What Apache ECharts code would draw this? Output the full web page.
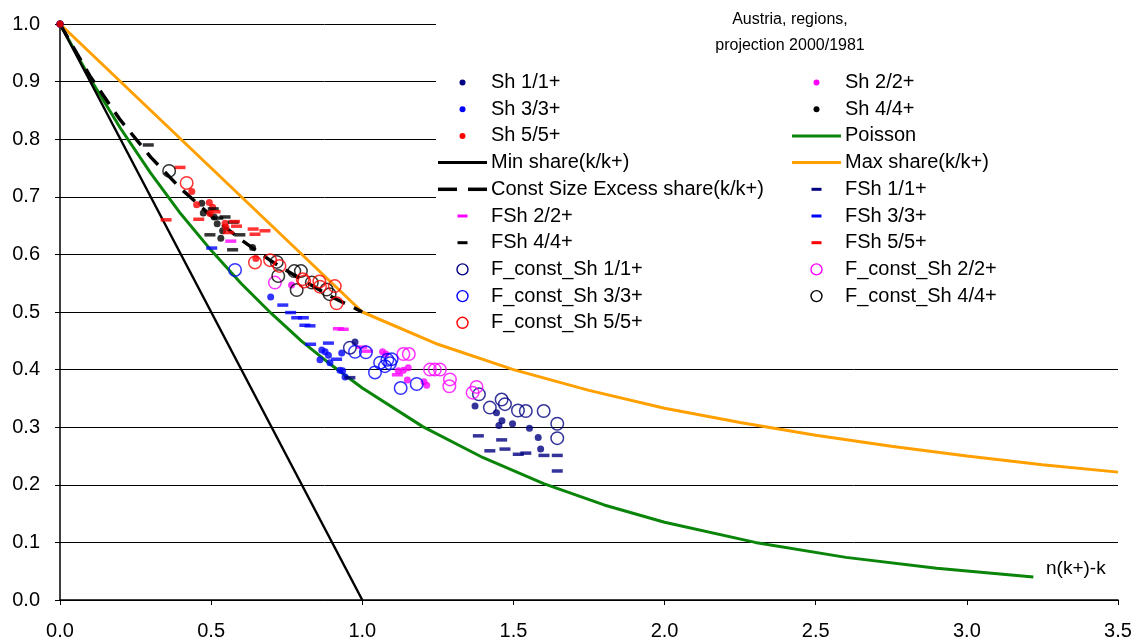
<!DOCTYPE html>
<html>
<head>
<meta charset="utf-8">
<script src="https://cdn.jsdelivr.net/npm/echarts@6/dist/echarts.min.js"></script>
<style>
html,body{margin:0;padding:0;background:#fff;}
#chart{width:1132px;height:639px;}
</style>
</head>
<body>
<div id="chart"></div>
<script>
// ---------- text ----------
const titleLines = ['Austria, regions,', 'projection 2000/1981'];
const xAxisCaption = 'n(k+)-k';
const xTickValues = [0, 0.5, 1.0, 1.5, 2.0, 2.5, 3.0, 3.5];
const yTickValues = [0, 0.1, 0.2, 0.3, 0.4, 0.5, 0.6, 0.7, 0.8, 0.9, 1.0];

// ---------- reference curves ----------
const minShare = [[0, 1], [1, 0]];
const maxShare = [[0, 1], [1, 0.5], [1.25, 0.444], [1.5, 0.4], [1.75, 0.364], [2, 0.333], [2.25, 0.308], [2.5, 0.286], [2.75, 0.267], [3, 0.25], [3.25, 0.235], [3.5, 0.222]];
const poisson = [[0, 1], [0.1, 0.905], [0.2, 0.819], [0.3, 0.741], [0.4, 0.67], [0.5, 0.607], [0.6, 0.549], [0.7, 0.497], [0.8, 0.449], [0.9, 0.407], [1.0, 0.368], [1.2, 0.301], [1.4, 0.247], [1.6, 0.202], [1.8, 0.165], [2.0, 0.135], [2.3, 0.1], [2.6, 0.074], [2.9, 0.055], [3.22, 0.04]];
const constSizeExcess = [[0, 1], [0.1, 0.909], [0.2, 0.833], [0.3, 0.769], [0.4, 0.714], [0.5, 0.667], [0.6, 0.625], [0.7, 0.588], [0.8, 0.556], [0.9, 0.526], [1.0, 0.5]];

// ---------- observed shares (dots) ----------
const sh1 = [[0, 1], [0.976, 0.448], [1.373, 0.337], [1.444, 0.325], [1.462, 0.311], [1.452, 0.303], [1.497, 0.306], [1.553, 0.298], [1.582, 0.282], [1.59, 0.262]];
const sh2 = [[0, 1], [0.766, 0.547], [1.067, 0.431], [1.078, 0.427], [1.119, 0.398], [1.136, 0.399], [1.152, 0.403], [1.149, 0.382], [1.204, 0.379], [1.213, 0.373]];
const sh3 = [[0, 1], [0.697, 0.526], [0.866, 0.434], [0.877, 0.431], [0.888, 0.425], [0.86, 0.417], [0.893, 0.412], [0.932, 0.429], [0.926, 0.399], [0.935, 0.398], [0.943, 0.387]];
const sh4 = [[0, 1], [0.469, 0.689], [0.474, 0.672], [0.51, 0.665], [0.52, 0.653], [0.538, 0.641], [0.532, 0.628], [0.637, 0.612]];
const sh5 = [[0, 1], [0.436, 0.709], [0.452, 0.686], [0.494, 0.69], [0.496, 0.671], [0.505, 0.682], [0.546, 0.654], [0.549, 0.647], [0.648, 0.593]];

// ---------- forecast shares (dashes) ----------
const fsh1 = [[0.959, 0.386], [1.384, 0.285], [1.461, 0.278], [1.422, 0.259], [1.472, 0.262], [1.516, 0.253], [1.541, 0.255], [1.601, 0.251], [1.645, 0.251], [1.645, 0.224]];
const fsh2 = [[0.565, 0.623], [0.921, 0.471], [0.937, 0.47], [0.998, 0.439], [1.016, 0.432], [1.116, 0.391]];
const fsh3 = [[0.502, 0.611], [0.737, 0.512], [0.763, 0.499], [0.783, 0.49], [0.805, 0.49], [0.81, 0.477], [0.827, 0.476], [0.829, 0.444], [0.888, 0.446], [0.915, 0.418]];
const fsh4 = [[0.292, 0.79], [0.507, 0.679], [0.522, 0.663], [0.546, 0.665], [0.573, 0.656], [0.496, 0.634], [0.595, 0.634], [0.571, 0.608]];
const fsh5 = [[0.397, 0.751], [0.351, 0.66], [0.459, 0.661], [0.513, 0.674], [0.577, 0.657], [0.584, 0.649], [0.639, 0.644], [0.678, 0.641], [0.645, 0.635], [0.557, 0.638]];

// ---------- forecast with constant share (circles) ----------
const fc1 = [[0.959, 0.438], [1.386, 0.357], [1.422, 0.334], [1.461, 0.348], [1.472, 0.34], [1.515, 0.329], [1.541, 0.328], [1.6, 0.328], [1.645, 0.306], [1.645, 0.281]];
const fc2 = [[0.711, 0.551], [1.136, 0.427], [1.154, 0.427], [1.224, 0.4], [1.24, 0.4], [1.257, 0.4], [1.29, 0.383], [1.288, 0.371], [1.378, 0.37], [1.365, 0.36]];
const fc3 = [[0.579, 0.573], [0.976, 0.431], [1.012, 0.43], [1.059, 0.412], [1.075, 0.406], [1.092, 0.411], [1.097, 0.418], [1.083, 0.417], [1.042, 0.395], [1.127, 0.368], [1.18, 0.375]];
const fc4 = [[0.361, 0.745], [0.717, 0.587], [0.722, 0.5625], [0.775, 0.571], [0.797, 0.571], [0.783, 0.538], [0.833, 0.551], [0.882, 0.539], [0.892, 0.531]];
const fc5 = [[0.419, 0.724], [0.645, 0.586], [0.695, 0.59], [0.726, 0.58], [0.803, 0.557], [0.808, 0.553], [0.858, 0.553], [0.86, 0.544], [0.909, 0.545], [0.915, 0.515]];

// ---------- styling ----------
const NAVY = '#000080', MAG = '#FF00FF', BLUE = '#0000FF', BLACK = '#000000', RED = '#FF0000';
const GREEN = '#0A850A', ORANGE = '#FFA000';
const FONT = 'Liberation Sans, Arial, sans-serif';
const DASH_PATH = 'path://M0,0h10v3h-10z';

function dots(name, data, color) {
  return { name, type: 'scatter', data, symbol: 'circle', symbolSize: 7,
    itemStyle: { color }, silent: true, z: 3 };
}
function dashes(name, data, color) {
  return { name, type: 'scatter', data, symbol: DASH_PATH, symbolSize: [11, 3.5],
    itemStyle: { color }, silent: true, z: 3 };
}
function rings(name, data, color) {
  return { name, type: 'scatter', data, symbol: 'circle', symbolSize: 12.5,
    itemStyle: { color: 'rgba(0,0,0,0)', borderColor: color, borderWidth: 1.5 }, silent: true, z: 3 };
}
function curve(name, data, color, width, type) {
  return { name, type: 'line', data, symbol: 'none', smooth: false, silent: true, z: 2,
    lineStyle: { color, width, type: type || 'solid' }, itemStyle: { color } };
}

const series = [
  dots('Sh 1/1+', sh1, NAVY),
  dots('Sh 2/2+', sh2, MAG),
  dots('Sh 3/3+', sh3, BLUE),
  dots('Sh 4/4+', sh4, BLACK),
  dots('Sh 5/5+', sh5, RED),
  curve('Poisson', poisson, GREEN, 3),
  curve('Min share(k/k+)', minShare, BLACK, 2.4),
  curve('Max share(k/k+)', maxShare, ORANGE, 3),
  curve('Const Size Excess share(k/k+)', constSizeExcess, BLACK, 3.4, [16, 10]),
  dashes('FSh 1/1+', fsh1, NAVY),
  dashes('FSh 2/2+', fsh2, MAG),
  dashes('FSh 3/3+', fsh3, BLUE),
  dashes('FSh 4/4+', fsh4, BLACK),
  dashes('FSh 5/5+', fsh5, RED),
  rings('F_const_Sh 1/1+', fc1, NAVY),
  rings('F_const_Sh 2/2+', fc2, MAG),
  rings('F_const_Sh 3/3+', fc3, BLUE),
  rings('F_const_Sh 4/4+', fc4, BLACK),
  rings('F_const_Sh 5/5+', fc5, RED)
];

// legend: two columns, row-major as in the reference
const legendLeftCol = [
  ['Sh 1/1+', 'dot', NAVY], ['Sh 3/3+', 'dot', BLUE], ['Sh 5/5+', 'dot', RED], ['Min share(k/k+)', 'line', BLACK],
  ['Const Size Excess share(k/k+)', 'dashed', BLACK], ['FSh 2/2+', 'dash', MAG], ['FSh 4/4+', 'dash', BLACK],
  ['F_const_Sh 1/1+', 'ring', NAVY], ['F_const_Sh 3/3+', 'ring', BLUE], ['F_const_Sh 5/5+', 'ring', RED]
];
const legendRightCol = [
  ['Sh 2/2+', 'dot', MAG], ['Sh 4/4+', 'dot', BLACK], ['Poisson', 'line', GREEN], ['Max share(k/k+)', 'line', ORANGE],
  ['FSh 1/1+', 'dash', NAVY], ['FSh 3/3+', 'dash', BLUE], ['FSh 5/5+', 'dash', RED],
  ['F_const_Sh 2/2+', 'ring', MAG], ['F_const_Sh 4/4+', 'ring', BLACK]
];
const ROW0 = 82.5, ROWSTEP = 26.7, ICONW = 49;

const legendGraphics = [];
function addLegendItem(entry, x0, row) {
  const [name, kind, color] = entry;
  const cy = ROW0 + row * ROWSTEP;
  const cx = x0 + ICONW / 2;
  if (kind === 'dot') {
    legendGraphics.push({ type: 'circle', shape: { cx, cy, r: 3 }, style: { fill: color }, z: 6, silent: true });
  } else if (kind === 'ring') {
    legendGraphics.push({ type: 'circle', shape: { cx, cy, r: 5.5 }, style: { fill: 'none', stroke: color, lineWidth: 1.4 }, z: 6, silent: true });
  } else if (kind === 'dash') {
    legendGraphics.push({ type: 'rect', shape: { x: cx - 5, y: cy - 1.5, width: 10, height: 3 }, style: { fill: color }, z: 6, silent: true });
  } else if (kind === 'line') {
    legendGraphics.push({ type: 'line', shape: { x1: x0, y1: cy, x2: x0 + ICONW, y2: cy }, style: { stroke: color, lineWidth: 3 }, z: 6, silent: true });
  } else if (kind === 'dashed') {
    legendGraphics.push({ type: 'line', shape: { x1: x0, y1: cy, x2: x0 + 19, y2: cy }, style: { stroke: color, lineWidth: 3.5 }, z: 6, silent: true });
    legendGraphics.push({ type: 'line', shape: { x1: x0 + 30, y1: cy, x2: x0 + ICONW, y2: cy }, style: { stroke: color, lineWidth: 3.5 }, z: 6, silent: true });
  }
  legendGraphics.push({ type: 'text', z: 6, silent: true,
    style: { x: x0 + ICONW + 4, y: cy, text: name, fontFamily: FONT, fontSize: 20, fill: '#000', align: 'left', verticalAlign: 'middle' } });
}
legendLeftCol.forEach((e, i) => addLegendItem(e, 438, i));
legendRightCol.forEach((e, i) => addLegendItem(e, 792, i));

const chart = echarts.init(document.getElementById('chart'), null, { renderer: 'canvas' });
chart.setOption({
  animation: false,
  backgroundColor: '#fff',
  grid: { left: 60, right: 14, top: 24, bottom: 39, containLabel: false, outerBoundsMode: 'none' },
  xAxis: {
    type: 'value', min: xTickValues[0], max: xTickValues[xTickValues.length - 1], interval: 0.5,
    axisLine: { show: true, onZero: false, lineStyle: { color: '#000', width: 1.5 } },
    axisTick: { show: true, length: 5, lineStyle: { color: '#000' } },
    splitLine: { show: false },
    axisLabel: { fontFamily: FONT, fontSize: 20, color: '#000', margin: 21, formatter: v => v.toFixed(1) }
  },
  yAxis: {
    type: 'value', min: yTickValues[0], max: yTickValues[yTickValues.length - 1], interval: 0.1,
    axisLine: { show: true, lineStyle: { color: '#000', width: 1.5 } },
    axisTick: { show: true, length: 5, lineStyle: { color: '#000' } },
    splitLine: { show: true, lineStyle: { color: '#000', width: 1 } },
    axisLabel: { fontFamily: FONT, fontSize: 20, color: '#000', margin: 20, formatter: v => v.toFixed(1) }
  },
  graphic: [
    { type: 'rect', shape: { x: 436, y: 0, width: 700, height: 338 }, style: { fill: '#fff' }, z: 1, silent: true },
    { type: 'text', z: 6, silent: true, style: { x: 790, y: 20, text: titleLines[0], fontFamily: FONT, fontSize: 16, fill: '#000', align: 'center', verticalAlign: 'middle' } },
    { type: 'text', z: 6, silent: true, style: { x: 790, y: 46, text: titleLines[1], fontFamily: FONT, fontSize: 16, fill: '#000', align: 'center', verticalAlign: 'middle' } },
    { type: 'text', z: 6, silent: true, style: { x: 1046, y: 569, text: xAxisCaption, fontFamily: FONT, fontSize: 19, fill: '#000', align: 'left', verticalAlign: 'middle' } }
  ].concat(legendGraphics),
  series
});
</script>
</body>
</html>
